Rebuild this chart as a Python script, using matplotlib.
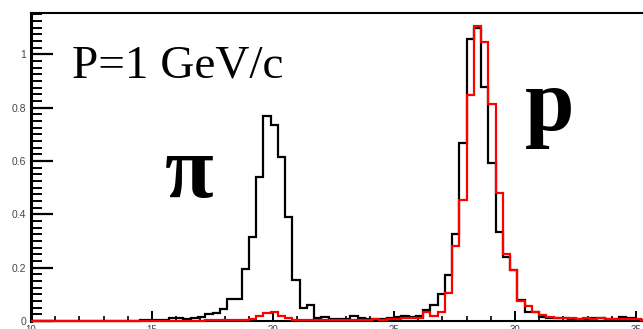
import numpy as np
import matplotlib.pyplot as plt
from matplotlib.ticker import MultipleLocator

# bin contents, 0.3-wide bins starting at 10
all_tracks = [
    0, 0, 0, 0, 0, 0, 0, 0, 0, 0,
    0, 0, 0, 0, 0, 0.003, 0.003, 0.005, 0.004, 0.012,
    0.010, 0.008, 0.010, 0.016, 0.025, 0.030, 0.044, 0.081, 0.081, 0.194,
    0.316, 0.541, 0.769, 0.735, 0.616, 0.391, 0.155, 0.050, 0.060, 0.012,
    0.015, 0.007, 0.006, 0.007, 0.019, 0.010, 0.008, 0.008, 0.009, 0.012,
    0.016, 0.020, 0.015, 0.020, 0.041, 0.060, 0.100, 0.172, 0.325, 0.666,
    1.057, 1.100, 0.877, 0.591, 0.335, 0.241, 0.190, 0.080, 0.035, 0.033,
    0.015, 0.012, 0.010, 0.012, 0.008, 0.008, 0.008, 0.013, 0.013, 0.008,
    0.008, 0.015, 0.010, 0.005, 0.005, 0.005,
]
protons = [
    0, 0, 0, 0, 0, 0, 0, 0, 0, 0,
    0, 0, 0, 0, 0, 0, 0, 0, 0, 0,
    0, 0, 0, 0, 0.003, 0.003, 0.004, 0.004, 0.005, 0.005,
    0.008, 0.019, 0.031, 0.032, 0.019, 0.010, 0.004, 0.003, 0.003, 0.002,
    0.003, 0.003, 0.002, 0.003, 0.004, 0.004, 0.005, 0.006, 0.005, 0.007,
    0.008, 0.010, 0.010, 0.010, 0.035, 0.020, 0.032, 0.104, 0.282, 0.454,
    0.847, 1.106, 1.045, 0.813, 0.480, 0.250, 0.191, 0.075, 0.057, 0.035,
    0.022, 0.016, 0.012, 0.010, 0.010, 0.008, 0.010, 0.008, 0.010, 0.008,
    0.006, 0.006, 0.008, 0.006, 0.005, 0.004,
]
bin_start = 10
bin_width = 0.3
ytick_vals = [0, 0.2, 0.4, 0.6, 0.8, 1.0]
ytick_text = ['0', '0.2', '0.4', '0.6', '0.8', '1']
xtick_vals = [10, 15, 20, 25, 30, 35]

edges = bin_start + bin_width * np.arange(len(all_tracks) + 1)

W, H = 643, 329
fig = plt.figure(figsize=(W / 100, H / 100), dpi=100)
# frame runs past the right edge of the canvas
ax = fig.add_axes([31 / W, 8 / H, 726 / W, 308 / H])

ax.stairs(all_tracks, edges, color='black', lw=1.6, zorder=3, clip_on=False)
ax.stairs(protons, edges, color='#ff0000', lw=1.6, zorder=4, clip_on=False)

ax.set_xlim(10, 40)
ax.set_ylim(0, 1.155)

ax.set_yticks(ytick_vals, ytick_text)
ax.set_xticks(xtick_vals, [str(v) for v in xtick_vals])
ax.yaxis.set_minor_locator(MultipleLocator(0.025))
ax.xaxis.set_minor_locator(MultipleLocator(1))

ax.tick_params(axis='y', which='major', direction='in', length=16, width=1.6,
               labelsize=7.5, labelcolor='#454552', pad=3.5)
ax.tick_params(axis='y', which='minor', direction='in', length=8, width=1.4)
ax.tick_params(axis='x', which='major', direction='in', length=7.5, width=1.4,
               labelsize=7, labelcolor='#454552', pad=3)
ax.tick_params(axis='x', which='minor', direction='in', length=3.5, width=1.2)
for lab in ax.get_xticklabels() + ax.get_yticklabels():
    lab.set_family('Liberation Sans')

ax.spines['left'].set_linewidth(2.2)
ax.spines['top'].set_linewidth(1.5)
ax.spines['bottom'].set_linewidth(1.5)
ax.spines['right'].set_visible(False)

fig.text(72 / W, 1 - 78 / H, 'P=1 GeV/c', family='Liberation Serif',
         fontsize=34, va='baseline', ha='left')
fig.text(165 / W, 1 - 197 / H, 'π', family=['Liberation Serif', 'DejaVu Serif'],
         fontweight='bold', fontsize=64, va='baseline', ha='left')
fig.text(525 / W, 1 - 130 / H, 'p', family='Liberation Serif',
         fontweight='bold', fontsize=64, va='baseline', ha='left')

fig.savefig('out.png', dpi=100)
